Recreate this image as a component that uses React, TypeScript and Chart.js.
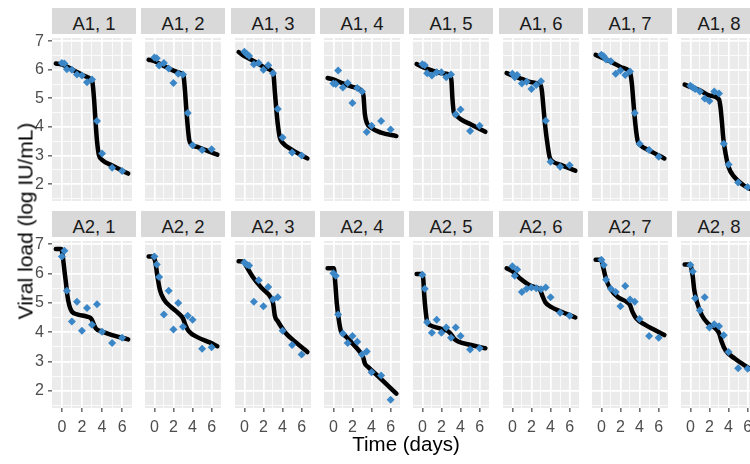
import React, { useEffect, useRef } from 'react';
import { Chart, registerables } from 'chart.js';

Chart.register(...registerables);

// ---------- data ----------
const TIMES = [0, 0.25, 0.5, 1, 1.5, 2, 2.5, 3, 3.5, 4, 5, 6];

const X_MIN = -0.98;
const X_MAX = 6.98;
const Y_MIN = 1.41;
const Y_MAX = 7.11;
const X_GRID = [0, 1, 2, 3, 4, 5, 6];
const X_TICK_LABELS = [0, 2, 4, 6];
const Y_GRID = [1.5, 2, 2.5, 3, 3.5, 4, 4.5, 5, 5.5, 6, 6.5, 7];
const Y_TICK_LABELS = [2, 3, 4, 5, 6, 7];

const LABELS_A1 = ['A1, 1', 'A1, 2', 'A1, 3', 'A1, 4', 'A1, 5', 'A1, 6', 'A1, 7', 'A1, 8'];
const LABELS_A2 = ['A2, 1', 'A2, 2', 'A2, 3', 'A2, 4', 'A2, 5', 'A2, 6', 'A2, 7', 'A2, 8'];

// observed viral load (log IU/mL) at TIMES
const obsA1_1 = [6.24, 6.22, 6.02, 6.0, 5.83, 5.8, 5.56, 5.66, 4.21, 3.07, 2.57, 2.46];
const obsA1_2 = [6.43, 6.4, 6.15, 6.24, 6.04, 5.54, 5.86, 5.83, 4.49, 3.36, 3.19, 3.22];
const obsA1_3 = [6.63, 6.55, 6.48, 6.19, 6.24, 6.0, 6.16, 5.88, 4.63, 3.63, 3.11, 3.0];
const obsA1_4 = [5.52, 5.5, 5.97, 5.38, 5.54, 4.84, 5.36, 5.24, 3.82, 4.04, 4.21, 3.91];
const obsA1_5 = [6.19, 6.16, 5.88, 5.8, 5.91, 5.91, 5.74, 5.83, 4.44, 4.61, 3.86, 4.04];
const obsA1_6 = [5.86, 5.74, 5.82, 5.52, 5.58, 5.33, 5.47, 5.6, 4.22, 2.78, 2.61, 2.66];
const obsA1_7 = [6.52, 6.47, 6.36, 6.3, 5.86, 5.97, 5.82, 5.94, 4.49, 3.41, 3.19, 2.96];
const obsA1_8 = [5.44, 5.38, 5.33, 5.24, 4.99, 4.91, 5.24, 5.17, 3.41, 2.69, 2.06, 1.9];
const obsA2_1 = [6.58, 6.78, 5.41, 4.36, 5.04, 4.05, 4.82, 4.25, 4.95, 4.01, 3.63, 3.81];
const obsA2_2 = [6.58, 6.31, 5.88, 4.6, 5.41, 4.09, 4.99, 4.18, 4.56, 4.42, 3.43, 3.48];
const obsA2_3 = [6.38, 6.3, 6.27, 5.04, 5.77, 4.88, 5.54, 5.11, 5.19, 4.05, 3.56, 3.24];
const obsA2_4 = [6.01, 5.92, 4.6, 3.95, 3.63, 3.87, 3.67, 3.24, 3.34, 2.63, 2.52, 1.69];
const obsA2_5 = [5.96, 5.48, 4.34, 3.98, 4.42, 3.98, 4.16, 3.81, 4.16, 3.87, 3.41, 3.45];
const obsA2_6 = [6.25, 5.92, 6.14, 5.37, 5.48, 5.52, 5.5, 5.46, 5.52, 5.19, 4.66, 4.56];
const obsA2_7 = [6.47, 6.29, 5.79, 5.48, 5.37, 4.88, 5.57, 5.11, 5.04, 4.45, 3.87, 3.81];
const obsA2_8 = [6.29, 6.07, 5.16, 4.75, 5.19, 4.16, 4.27, 4.2, 3.89, 3.32, 2.77, 2.75];

// model fit curves, [time, log VL]
const fitA1_1 = [[-0.6, 6.22], [0, 6.18], [1, 6.02], [2, 5.82], [2.9, 5.65], [3.05, 5.55], [3.2, 5.0], [3.35, 4.2], [3.5, 3.5], [3.7, 3.0], [4.0, 2.85], [5, 2.65], [6.6, 2.37]];
const fitA1_2 = [[-0.6, 6.35], [0, 6.3], [1, 6.13], [2, 5.97], [2.9, 5.86], [3.05, 5.8], [3.2, 5.3], [3.35, 4.6], [3.5, 4.0], [3.65, 3.55], [3.85, 3.4], [4.5, 3.3], [5.5, 3.17], [6.6, 3.03]];
const fitA1_3 = [[-0.6, 6.62], [0, 6.48], [1, 6.3], [2, 6.1], [2.9, 5.95], [3.05, 5.85], [3.2, 5.2], [3.35, 4.6], [3.5, 4.1], [3.7, 3.65], [4, 3.45], [5, 3.2], [6.6, 2.9]];
const fitA1_4 = [[-0.6, 5.71], [0, 5.66], [1, 5.52], [2, 5.4], [3, 5.25], [3.15, 5.1], [3.3, 4.45], [3.5, 4.15], [4, 3.96], [5, 3.8], [6.6, 3.68]];
const fitA1_5 = [[-0.6, 6.2], [0, 6.1], [1, 5.98], [2, 5.88], [2.9, 5.8], [3.05, 5.6], [3.15, 5.0], [3.3, 4.5], [3.6, 4.38], [4, 4.27], [5, 4.1], [6.6, 3.83]];
const fitA1_6 = [[-0.6, 5.88], [0, 5.8], [1, 5.68], [2, 5.56], [2.95, 5.47], [3.1, 5.25], [3.25, 4.7], [3.45, 4.0], [3.7, 3.35], [3.9, 2.95], [4.2, 2.8], [5, 2.68], [6.6, 2.47]];
const fitA1_7 = [[-0.6, 6.52], [0, 6.43], [1, 6.28], [2, 6.1], [2.9, 5.95], [3.05, 5.85], [3.2, 5.5], [3.35, 4.9], [3.55, 4.13], [3.8, 3.52], [4.1, 3.36], [5, 3.18], [6.6, 2.9]];
const fitA1_8 = [[-0.6, 5.48], [0, 5.4], [1, 5.28], [2, 5.1], [3, 4.96], [3.15, 4.7], [3.3, 4.2], [3.45, 3.6], [3.7, 3.05], [4, 2.6], [4.6, 2.25], [5.5, 1.98], [6.6, 1.78]];
const fitA2_1 = [[-0.6, 6.84], [-0.05, 6.84], [0.1, 6.56], [0.25, 6.12], [0.4, 5.7], [0.55, 5.25], [0.75, 4.9], [1, 4.7], [1.6, 4.6], [2.5, 4.53], [2.95, 4.45], [3.2, 4.25], [3.4, 4.12], [4, 4.02], [5, 3.9], [6.6, 3.75]];
const fitA2_2 = [[-0.6, 6.58], [-0.15, 6.58], [0.1, 6.4], [0.3, 5.95], [0.6, 5.42], [1, 5.12], [1.7, 4.87], [2.5, 4.65], [3, 4.47], [3.25, 4.25], [3.6, 4.03], [4.5, 3.83], [5.8, 3.65], [6.6, 3.52]];
const fitA2_3 = [[-0.6, 6.42], [-0.05, 6.4], [0.2, 6.25], [0.85, 5.9], [1.8, 5.51], [2.75, 5.19], [3.0, 5.0], [3.2, 4.55], [3.5, 4.37], [4.3, 3.98], [5.4, 3.65], [6.6, 3.32]];
const fitA2_4 = [[-0.6, 6.18], [0.05, 6.18], [0.2, 5.68], [0.35, 5.03], [0.55, 4.47], [0.8, 4.03], [1.25, 3.87], [1.9, 3.65], [2.8, 3.32], [3.1, 3.17], [3.3, 2.93], [3.6, 2.82], [4.7, 2.49], [6.6, 1.9]];
const fitA2_5 = [[-0.6, 5.98], [0, 5.98], [0.1, 5.8], [0.2, 5.25], [0.35, 4.7], [0.5, 4.35], [0.85, 4.23], [1.9, 4.12], [2.7, 4.03], [3.0, 3.93], [3.35, 3.77], [3.8, 3.67], [5, 3.57], [6.6, 3.45]];
const fitA2_6 = [[-0.6, 6.18], [0, 6.08], [0.75, 5.85], [2, 5.57], [2.9, 5.44], [3.15, 5.24], [3.45, 5.02], [4, 4.87], [5, 4.71], [6.6, 4.5]];
const fitA2_7 = [[-0.6, 6.47], [-0.05, 6.47], [0.18, 6.23], [0.5, 5.8], [1, 5.45], [1.75, 5.19], [2.7, 5.02], [3.0, 4.92], [3.25, 4.7], [3.65, 4.47], [4.6, 4.25], [5.5, 4.09], [6.6, 3.9]];
const fitA2_8 = [[-0.6, 6.31], [-0.05, 6.31], [0.25, 5.9], [0.4, 5.46], [0.7, 5.02], [1.2, 4.58], [1.8, 4.31], [2.75, 4.09], [3.05, 3.93], [3.25, 3.7], [3.7, 3.37], [4.65, 3.1], [5.9, 2.82], [6.6, 2.68]];

const OBS_ROWS = [
  [obsA1_1, obsA1_2, obsA1_3, obsA1_4, obsA1_5, obsA1_6, obsA1_7, obsA1_8],
  [obsA2_1, obsA2_2, obsA2_3, obsA2_4, obsA2_5, obsA2_6, obsA2_7, obsA2_8],
];
const FIT_ROWS = [
  [fitA1_1, fitA1_2, fitA1_3, fitA1_4, fitA1_5, fitA1_6, fitA1_7, fitA1_8],
  [fitA2_1, fitA2_2, fitA2_3, fitA2_4, fitA2_5, fitA2_6, fitA2_7, fitA2_8],
];
const LABEL_ROWS = [LABELS_A1, LABELS_A2];

// ---------- layout / style ----------
const FONT = "'Liberation Sans', Arial, sans-serif";
const COL_LEFT = [52, 141, 231, 320, 409, 499, 588, 677];
const PANEL_W = 84;
const STRIP_TOP = [8, 211];
const STRIP_H = 26;
const PANEL_TOP = [34, 237];
const PANEL_H = [171, 171];
const Y_AXIS_W = 22;
const X_AXIS_H = 30;

const panelBg = {
  id: 'panelBg',
  beforeDraw(chart: any) {
    const { ctx, chartArea: a } = chart;
    ctx.save();
    ctx.fillStyle = '#EBEBEB';
    ctx.fillRect(a.left, a.top, a.right - a.left, a.bottom - a.top);
    ctx.restore();
  },
};

const near = (v: number, arr: number[]) => arr.some((a) => Math.abs(a - v) < 1e-6);

function Panel({ row, col }: { row: number; col: number }) {
  const ref = useRef<HTMLCanvasElement | null>(null);
  const isLeft = col === 0;
  const isBottom = row === 1;
  const width = PANEL_W + (isLeft ? Y_AXIS_W : 0);
  const height = PANEL_H[row] + (isBottom ? X_AXIS_H : 0);
  const left = COL_LEFT[col] - (isLeft ? Y_AXIS_W : 0);
  const top = PANEL_TOP[row];

  useEffect(() => {
    if (!ref.current) return;
    const obs = OBS_ROWS[row][col];
    const fit = FIT_ROWS[row][col];
    const chart = new Chart(ref.current, {
      type: 'scatter',
      data: {
        datasets: [
          {
            data: TIMES.map((t, i) => ({ x: t, y: obs[i] })),
            pointStyle: 'rectRot',
            pointRadius: 4,
            pointBackgroundColor: '#3A86C6',
            pointBorderWidth: 0,
            backgroundColor: '#3A86C6',
            borderWidth: 0,
            order: 0,
          },
          {
            data: fit.map((p) => ({ x: p[0], y: p[1] })),
            showLine: true,
            borderColor: '#000000',
            borderWidth: 4.5,
            pointRadius: 0,
            borderCapStyle: 'round',
            borderJoinStyle: 'round',
            cubicInterpolationMode: 'monotone',
            order: 1,
          } as any,
        ],
      },
      options: {
        responsive: false,
        maintainAspectRatio: false,
        animation: false,
        events: [],
        layout: { padding: 0 },
        plugins: { legend: { display: false }, tooltip: { enabled: false }, title: { display: false } },
        scales: {
          x: {
            type: 'linear',
            min: X_MIN,
            max: X_MAX,
            afterBuildTicks: (s: any) => {
              s.ticks = X_GRID.map((v) => ({ value: v }));
            },
            afterFit: (s: any) => {
              s.height = isBottom ? X_AXIS_H : 0;
              s.paddingLeft = 0;
              s.paddingRight = 0;
              s.paddingTop = 0;
              s.paddingBottom = 0;
            },
            border: { display: false },
            grid: {
              color: '#FFFFFF',
              lineWidth: (c: any) => (c.tick && near(c.tick.value, X_TICK_LABELS) ? 1.7 : 0.8),
              drawTicks: isBottom,
              tickLength: 4,
              tickWidth: 1.1,
              tickColor: (c: any) => (c.tick && near(c.tick.value, X_TICK_LABELS) ? '#333333' : 'rgba(0,0,0,0)'),
            },
            ticks: {
              display: isBottom,
              autoSkip: false,
              maxRotation: 0,
              minRotation: 0,
              padding: 6,
              color: '#4D4D4D',
              font: { family: FONT, size: 16 },
              callback: (v: any) => (near(Number(v), X_TICK_LABELS) ? String(v) : ''),
            },
          },
          y: {
            type: 'linear',
            min: Y_MIN,
            max: Y_MAX,
            afterBuildTicks: (s: any) => {
              s.ticks = Y_GRID.map((v) => ({ value: v }));
            },
            afterFit: (s: any) => {
              s.width = isLeft ? Y_AXIS_W : 0;
              s.paddingLeft = 0;
              s.paddingRight = 0;
              s.paddingTop = 0;
              s.paddingBottom = 0;
            },
            border: { display: false },
            grid: {
              color: '#FFFFFF',
              lineWidth: (c: any) => (c.tick && near(c.tick.value, Y_TICK_LABELS) ? 1.7 : 0.8),
              drawTicks: isLeft,
              tickLength: 4,
              tickWidth: 1.1,
              tickColor: (c: any) => (c.tick && near(c.tick.value, Y_TICK_LABELS) ? '#333333' : 'rgba(0,0,0,0)'),
            },
            ticks: {
              display: isLeft,
              autoSkip: false,
              padding: 4,
              color: '#4D4D4D',
              font: { family: FONT, size: 16 },
              callback: (v: any) => (near(Number(v), Y_TICK_LABELS) ? String(v) : ''),
            },
          },
        },
      } as any,
      plugins: [panelBg],
    });
    return () => chart.destroy();
  }, [row, col]);

  return (
    <canvas
      ref={ref}
      width={width}
      height={height}
      style={{ position: 'absolute', left, top, width, height, display: 'block' }}
    />
  );
}

function Strip({ row, col }: { row: number; col: number }) {
  return (
    <div
      style={{
        position: 'absolute',
        left: COL_LEFT[col],
        top: STRIP_TOP[row],
        width: PANEL_W,
        height: STRIP_H,
        background: '#D9D9D9',
        overflow: 'hidden',
      }}
    >
      <div
        style={{
          position: 'absolute',
          left: 0,
          top: 2.6,
          width: PANEL_W,
          height: STRIP_H,
          lineHeight: STRIP_H + 'px',
          textAlign: 'center',
          fontFamily: FONT,
          fontSize: 18.5,
          color: '#1A1A1A',
          whiteSpace: 'nowrap',
        }}
      >
        {LABEL_ROWS[row][col]}
      </div>
    </div>
  );
}

export default function App() {
  const cells: React.ReactNode[] = [];
  for (let r = 0; r < 2; r++) {
    for (let c = 0; c < 8; c++) {
      cells.push(<Strip key={`s${r}-${c}`} row={r} col={c} />);
      cells.push(<Panel key={`p${r}-${c}`} row={r} col={c} />);
    }
  }
  return (
    <div
      style={{
        position: 'fixed',
        left: 0,
        top: 0,
        width: 750,
        height: 464,
        overflow: 'hidden',
        background: '#FFFFFF',
      }}
    >
      {cells}
      <div
        style={{
          position: 'absolute',
          left: 406,
          top: 434,
          transform: 'translateX(-50%)',
          fontFamily: FONT,
          fontSize: 20.5,
          lineHeight: '20.5px',
          color: '#000000',
          whiteSpace: 'nowrap',
        }}
      >
        Time (days)
      </div>
      <div
        style={{
          position: 'absolute',
          left: 24.5,
          top: 221,
          transform: 'translate(-50%, -50%) rotate(-90deg)',
          fontFamily: FONT,
          fontSize: 21,
          lineHeight: '21px',
          color: '#000000',
          whiteSpace: 'nowrap',
        }}
      >
        Viral load (log IU/mL)
      </div>
    </div>
  );
}
